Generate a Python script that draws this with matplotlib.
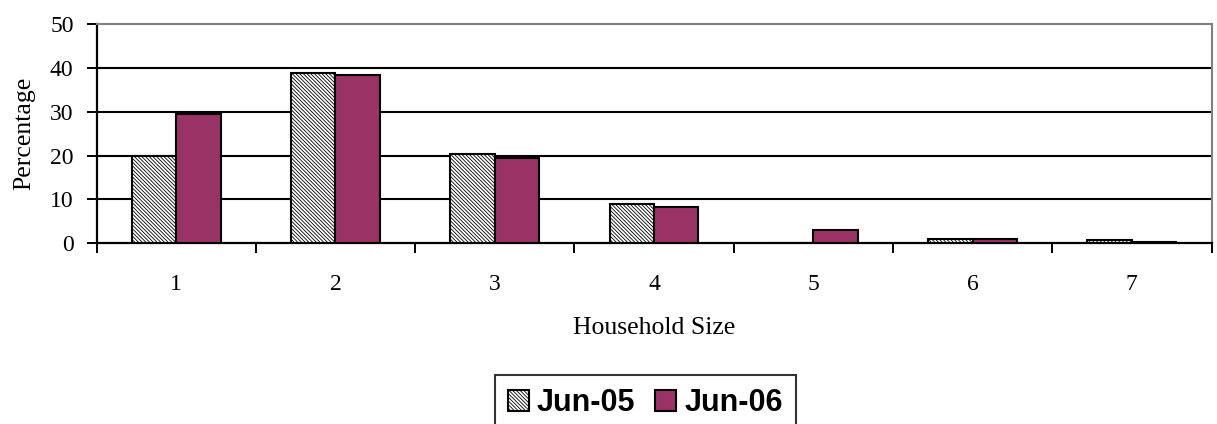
import matplotlib
matplotlib.use("Agg")
import matplotlib.pyplot as plt
import numpy as np

# household size distribution
sizes = ["1", "2", "3", "4", "5", "6", "7"]
jun05 = [20.0, 38.8, 20.3, 9.0, 0.0, 1.0, 0.7]
jun06 = [29.5, 38.3, 19.5, 8.3, 3.0, 1.0, 0.4]
series_names = ["Jun-05", "Jun-06"]
y_ticks = [0, 10, 20, 30, 40, 50]


def main():
    plt.rcParams["hatch.linewidth"] = 0.6
    plt.rcParams["hatch.color"] = "#5a5a5a"
    serif = "Liberation Serif"

    fig = plt.figure(figsize=(12.17, 4.24), dpi=100)
    ax = fig.add_axes([96.5 / 1217, 1 - 243.3 / 424,
                       1115 / 1217, 219.3 / 424])

    x = np.arange(1, len(sizes) + 1)
    w = 0.279
    ax.bar(x - w / 2, jun05, width=w, facecolor="white", hatch="\\" * 9,
           edgecolor="black", linewidth=1.5, label=series_names[0], zorder=3)
    ax.bar(x + w / 2, jun06, width=w, facecolor="#993366",
           edgecolor="black", linewidth=1.5, label=series_names[1], zorder=3)

    ax.set_xlim(0.5, len(sizes) + 0.5)
    ax.set_ylim(0, 50)
    ax.set_yticks(y_ticks)
    ax.set_yticklabels([str(t) for t in y_ticks], fontsize=17, family=serif)
    for t in y_ticks[1:-1]:
        ax.axhline(t, color="black", linewidth=1.5, zorder=1)

    # ticks on category boundaries, labels in the middle
    ax.set_xticks(np.arange(0.5, len(sizes) + 1, 1.0))
    ax.set_xticklabels([])
    ax.set_xticks(x, minor=True)
    ax.set_xticklabels(sizes, minor=True, fontsize=17, family=serif)
    ax.tick_params(axis="x", which="major", direction="out", length=7.5,
                   width=1.4)
    ax.tick_params(axis="x", which="minor", length=0, pad=22)
    ax.tick_params(axis="y", direction="out", length=7.5, width=1.4, pad=9)

    for side in ["left", "bottom"]:
        ax.spines[side].set_color("black")
        ax.spines[side].set_linewidth(1.6)
    for side in ["top", "right"]:
        ax.spines[side].set_color("#808080")
        ax.spines[side].set_linewidth(1.5)

    ax.set_xlabel("Household Size", fontsize=18.5, family=serif, va="top")
    ax.xaxis.set_label_coords(0.5, -0.335)
    ax.set_ylabel("Percentage", fontsize=18.5, family=serif)
    ax.yaxis.set_label_coords(-0.055, 0.5)

    leg = fig.legend(loc="upper left", bbox_to_anchor=(495 / 1217, 1 - 375 / 424),
                     ncol=2, frameon=True, fancybox=False, borderaxespad=0,
                     prop={"family": "Liberation Sans", "weight": "bold",
                           "size": 22},
                     handlelength=0.69, handleheight=0.69, handletextpad=0.26,
                     columnspacing=0.65, borderpad=0.42)
    leg.get_frame().set_edgecolor("black")
    leg.get_frame().set_linewidth(1.5)

    fig.savefig("out.png", dpi=100)


if __name__ == "__main__":
    main()
